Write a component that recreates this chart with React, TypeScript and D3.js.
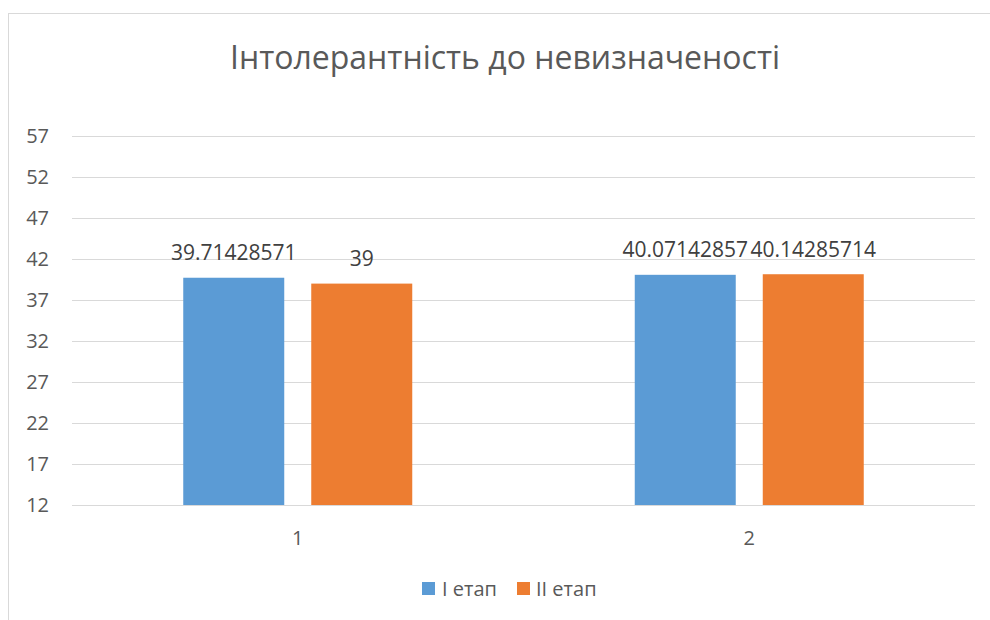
import React from "react";
import * as d3 from "d3";

const categories = ["1", "2"];
const seriesNames = ["I етап", "II етап"];
const seriesColors = ["#5b9bd5", "#ed7d31"];
const stage1 = [39.71428571, 40.07142857];
const stage2 = [39, 40.14285714];
const stage1Labels = ["39.71428571", "40.07142857"];
const stage2Labels = ["39", "40.14285714"];
const yTicks = [12, 17, 22, 27, 32, 37, 42, 47, 52, 57];
const title = "Інтолерантність до невизначеності";

export default function App() {
  const W = 990, H = 620;
  const left = 72, right = 975, top = 136, bottom = 505;
  const y = d3.scaleLinear().domain([12, 57]).range([bottom, top]);
  const x0 = d3.scaleBand<string>().domain(categories).range([left, right]).padding(0);
  const bw = x0.bandwidth();
  const groupW = bw * (229 / 451.5);
  const x1 = d3.scaleBand<string>().domain(seriesNames).range([0, groupW]).paddingInner(0.211).paddingOuter(0);
  const series = [stage1, stage2];
  const labels = [stage1Labels, stage2Labels];
  const font = "'Open Sans', 'Noto Sans', sans-serif";
  const textColor = "#595959";

  return (
    <svg width={W} height={H} style={{ position: "absolute", left: 0, top: 0, background: "#fff" }} fontFamily={font}>
      <rect x={8.5} y={13.5} width={1000} height={700} fill="#fff" stroke="#d9d9d9" strokeWidth={1} />
      <text x={505} y={69} textAnchor="middle" fontSize={32} fill={textColor}>{title}</text>
      {yTicks.map((t) => (
        <g key={t}>
          <line x1={left} x2={right} y1={Math.round(y(t)) + 0.5} y2={Math.round(y(t)) + 0.5} stroke="#d9d9d9" strokeWidth={1} />
          <text x={49} y={y(t) + 7} textAnchor="end" fontSize={20} fill={textColor}>{t}</text>
        </g>
      ))}
      {categories.map((c, ci) => {
        const gx = x0(c)! + (bw - groupW) / 2;
        return (
          <g key={c}>
            {series.map((s, si) => {
              const bx = gx + x1(seriesNames[si])!;
              return (
                <rect key={si} x={bx} y={y(s[ci])} width={x1.bandwidth()} height={y(12) - y(s[ci])} fill={seriesColors[si]} />
              );
            })}
            <text x={x0(c)! + bw / 2} y={545} textAnchor="middle" fontSize={20} fill={textColor}>{c}</text>
          </g>
        );
      })}
      {categories.map((c, ci) => {
        const gx = x0(c)! + (bw - groupW) / 2;
        return series.map((s, si) => {
          const cx = gx + x1(seriesNames[si])! + x1.bandwidth() / 2;
          return (
            <text key={c + si} x={cx} y={y(s[ci]) - 17.5} textAnchor="middle" fontSize={21} fill="#404040">{labels[si][ci]}</text>
          );
        });
      })}
      <g>
        <rect x={422} y={582} width={13} height={13} fill={seriesColors[0]} />
        <text x={442} y={596} fontSize={20} fill={textColor}>{seriesNames[0]}</text>
        <rect x={517} y={582} width={13} height={13} fill={seriesColors[1]} />
        <text x={536} y={596} fontSize={20} fill={textColor}>{seriesNames[1]}</text>
      </g>
    </svg>
  );
}
